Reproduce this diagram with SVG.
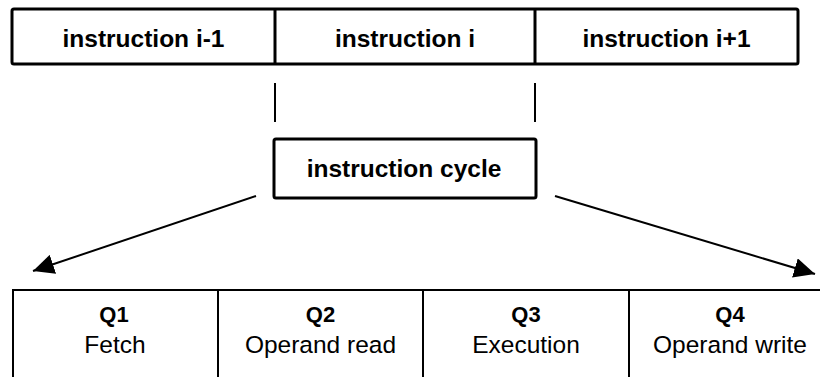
<svg xmlns="http://www.w3.org/2000/svg" width="820" height="377" viewBox="0 0 820 377">
<defs>
<style>
.box{fill:#fff;stroke:#000;stroke-width:3}
.thin{stroke:#000;stroke-width:2;fill:none}
.b{font-family:"Liberation Sans",Arial,sans-serif;font-weight:bold;font-size:24.5px;text-anchor:middle;fill:#000}
.q{font-family:"Liberation Sans",Arial,sans-serif;font-weight:bold;font-size:22px;text-anchor:middle;fill:#000}
.r{font-family:"Liberation Sans",Arial,sans-serif;font-size:24.5px;text-anchor:middle;fill:#000}
.conn{stroke:#000;stroke-width:2;fill:none}
</style>
<marker id="ah" markerUnits="userSpaceOnUse" markerWidth="22" markerHeight="20" refX="21" refY="10" orient="auto">
<path d="M0,0 L21,10 L0,20 z" fill="#000"/>
</marker>
</defs>
<rect width="820" height="377" fill="#fff"/>
<g id="instr-row">
<rect class="box" x="12" y="9" width="786" height="55" rx="2"/>
<line class="box" x1="275" y1="9" x2="275" y2="64"/>
<line class="box" x1="535" y1="9" x2="535" y2="64"/>
</g>
<g id="instr-prev"><text class="b" x="143.5" y="46.5">instruction i-1</text></g>
<g id="instr-cur"><text class="b" x="405" y="46.5">instruction i</text></g>
<g id="instr-next"><text class="b" x="666.5" y="46.5">instruction i+1</text></g>
<g id="instr-cycle">
<rect class="box" x="274" y="139" width="262" height="59" rx="2"/>
<text class="b" x="404" y="177">instruction cycle</text>
</g>
<g id="connectors">
<line class="thin" x1="275" y1="83" x2="275" y2="122"/>
<line class="thin" x1="535" y1="83" x2="535" y2="122"/>
<line class="conn" x1="256" y1="196" x2="33" y2="271" marker-end="url(#ah)"/>
<line class="conn" x1="555" y1="196" x2="815" y2="274" marker-end="url(#ah)"/>
</g>
<g id="phase-table">
<line class="thin" x1="13" y1="290" x2="820" y2="290"/>
<line class="thin" x1="13" y1="289" x2="13" y2="377"/>
<line class="thin" x1="218" y1="290" x2="218" y2="377"/>
<line class="thin" x1="423" y1="290" x2="423" y2="377"/>
<line class="thin" x1="629" y1="290" x2="629" y2="377"/>
</g>
<g id="q1"><text class="q" x="114" y="322">Q1</text><text class="r" x="115" y="353">Fetch</text></g>
<g id="q2"><text class="q" x="320.5" y="322">Q2</text><text class="r" x="320.5" y="353">Operand read</text></g>
<g id="q3"><text class="q" x="526" y="322">Q3</text><text class="r" x="526" y="353">Execution</text></g>
<g id="q4"><text class="q" x="730" y="322">Q4</text><text class="r" x="730" y="353">Operand write</text></g>
</svg>
